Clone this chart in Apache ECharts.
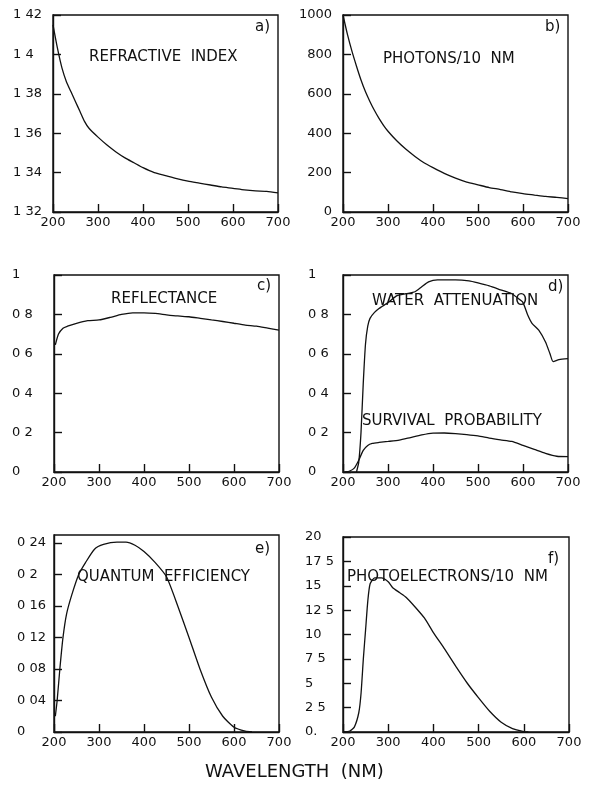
<!DOCTYPE html>
<html><head><meta charset="utf-8">
<script src="https://cdn.jsdelivr.net/npm/echarts@6/dist/echarts.min.js"></script>
<style>html,body{margin:0;padding:0;background:#fff}#c{width:591px;height:785px}</style>
</head><body><div id="c"></div>
<script>
// a) refractive index
const aWave = [200,210,220,230,240,250,260,270,280,300,320,340,360,380,400,425,450,475,500,525,550,575,600,625,650,675,700];
const aIndex = [1.415,1.403,1.393,1.386,1.381,1.376,1.371,1.366,1.3625,1.358,1.354,1.3505,1.3475,1.345,1.3425,1.340,1.3385,1.337,1.3357,1.3347,1.3337,1.3327,1.332,1.3312,1.3307,1.3305,1.3297];
// b) photons / 10 nm
const bWave = [200,210,220,230,240,250,260,270,280,290,300,320,340,360,380,400,425,450,475,500,525,550,575,600,625,650,675,700];
const bPhotons = [1000,900,815,740,670,610,560,515,475,440,410,360,318,282,250,225,196,172,152,138,124,114,102,93,86,79,74,68];
// c) reflectance
const cWave = [203,210,220,230,250,275,300,325,350,375,400,425,450,475,500,525,550,575,600,625,650,675,700];
const cRefl = [0.645,0.70,0.73,0.74,0.755,0.768,0.772,0.785,0.80,0.808,0.808,0.805,0.798,0.792,0.788,0.78,0.772,0.764,0.755,0.746,0.74,0.73,0.72];
// d) water attenuation and survival probability
const dWaterWave = [230,235,240,245,250,255,260,270,280,300,320,340,360,375,390,410,450,480,500,525,550,575,590,600,610,620,635,650,660,667,680,700];
const dWater = [0.0,0.05,0.2,0.45,0.65,0.74,0.78,0.81,0.83,0.86,0.895,0.905,0.915,0.94,0.965,0.975,0.975,0.97,0.96,0.945,0.925,0.905,0.88,0.86,0.80,0.755,0.72,0.66,0.60,0.56,0.57,0.575];
const dSurvWave = [205,215,225,235,245,255,265,280,300,325,350,375,400,425,450,475,500,525,550,575,600,625,650,675,700];
const dSurv = [0,0.005,0.02,0.06,0.11,0.135,0.145,0.15,0.155,0.162,0.175,0.188,0.197,0.198,0.195,0.19,0.183,0.172,0.163,0.155,0.135,0.115,0.095,0.08,0.078];
// e) quantum efficiency
const eWave = [203,207,213,220,228,240,255,270,290,310,340,360,380,400,425,450,475,500,525,550,575,600,625,640];
const eQE = [0.02,0.04,0.08,0.12,0.15,0.175,0.20,0.215,0.232,0.238,0.241,0.241,0.237,0.229,0.215,0.197,0.16,0.12,0.079,0.044,0.02,0.006,0.001,0];
// f) photoelectrons / 10 nm
const fWave = [200,215,225,235,240,245,250,255,260,270,285,300,310,325,340,360,380,400,425,450,475,500,525,550,575,600,610];
const fPE = [0,0.1,0.5,2,4,7.5,10.5,13.5,15.2,15.8,15.8,15.4,14.8,14.3,13.8,12.8,11.7,10.2,8.5,6.7,5.0,3.5,2.1,1.0,0.35,0.05,0];

const xTickLabels = ['200','300','400','500','600','700'];

function pairs(xs, ys){ return xs.map((x,i)=>[x, ys[i]]); }
const FONT = 'DejaVu Sans';
const INK = '#111';

function fmt(v, zeroText){
  if (Math.abs(v) < 1e-9) return zeroText || '0';
  return String(parseFloat(v.toFixed(4))).replace('.', ' ');
}

const panels = [
  {grid:{left:53,top:15,width:225,height:197}, min:1.32, max:1.42, interval:0.02, align:'left', margin:40},
  {grid:{left:343,top:15,width:225,height:197}, min:0, max:1000, interval:200, align:'right', margin:11},
  {grid:{left:54,top:275,width:225,height:197}, min:0, max:1, interval:0.2, align:'left', margin:42},
  {grid:{left:343,top:275,width:225,height:197}, min:0, max:1, interval:0.2, align:'left', margin:35},
  {grid:{left:54,top:535,width:225,height:197}, min:0, max:0.25, interval:0.04, align:'left', margin:37, hideMax:true},
  {grid:{left:343,top:537,width:226,height:195}, min:0, max:20, interval:2.5, align:'left', margin:38, zero:'0.'}
];

const grids = [], xAxes = [], yAxes = [];
panels.forEach((p,i)=>{
  grids.push(Object.assign({show:true, borderColor:INK, borderWidth:1.4, backgroundColor:'#fff'}, p.grid));
  xAxes.push({type:'value', gridIndex:i, min:200, max:700, interval:100,
    axisLine:{show:true, lineStyle:{color:INK, width:1.4}},
    axisTick:{show:true, inside:true, length:8, lineStyle:{color:INK, width:1.4}},
    splitLine:{show:false},
    axisLabel:{color:INK, fontFamily:FONT, fontSize:13, margin:4,
      formatter:(v)=>xTickLabels[Math.round((v-200)/100)] || ''}});
  yAxes.push({type:'value', gridIndex:i, min:p.min, max:p.max, interval:p.interval,
    axisLine:{show:true, lineStyle:{color:INK, width:1.4}},
    axisTick:{show:true, inside:true, length:8, lineStyle:{color:INK, width:1.4}},
    splitLine:{show:false},
    axisLabel:{color:INK, fontFamily:FONT, fontSize:13, margin:p.margin, align:p.align,
      showMaxLabel: p.hideMax ? false : true,
      formatter:(v)=>fmt(v, p.zero)}});
});

const lineStyle = {color:INK, width:1.3};
function ser(i, data){
  return {type:'line', xAxisIndex:i, yAxisIndex:i, data:data, showSymbol:false, symbol:'none',
    smooth:0.2, lineStyle:lineStyle, silent:true, animation:false};
}
const series = [
  ser(0, pairs(aWave, aIndex)),
  ser(1, pairs(bWave, bPhotons)),
  ser(2, pairs(cWave, cRefl)),
  ser(3, pairs(dWaterWave, dWater)),
  ser(3, pairs(dSurvWave, dSurv)),
  ser(4, pairs(eWave, eQE)),
  ser(5, pairs(fWave, fPE))
];

function t(text, left, top, size){
  return {text:text, left:left, top:top, padding:0,
    textStyle:{color:INK, fontFamily:FONT, fontSize:size||15, fontWeight:'normal'}};
}
const titles = [
  t('a)',255,20), t('REFRACTIVE  INDEX',89,50),
  t('b)',545,20), t('PHOTONS/10  NM',383,52),
  t('c)',257,279), t('REFLECTANCE',111,292),
  t('d)',548,280), t('WATER  ATTENUATION',372,294), t('SURVIVAL  PROBABILITY',362,414),
  t('e)',255,542), t('QUANTUM  EFFICIENCY',77,570),
  t('f)',548,552), t('PHOTOELECTRONS/10  NM',347,570),
  t('WAVELENGTH  (NM)',205,763,18)
];

const chart = echarts.init(document.getElementById('c'), null, {renderer:'canvas'});
chart.setOption({backgroundColor:'#fff', animation:false, title:titles, grid:grids, xAxis:xAxes, yAxis:yAxes, series:series});
</script></body></html>
